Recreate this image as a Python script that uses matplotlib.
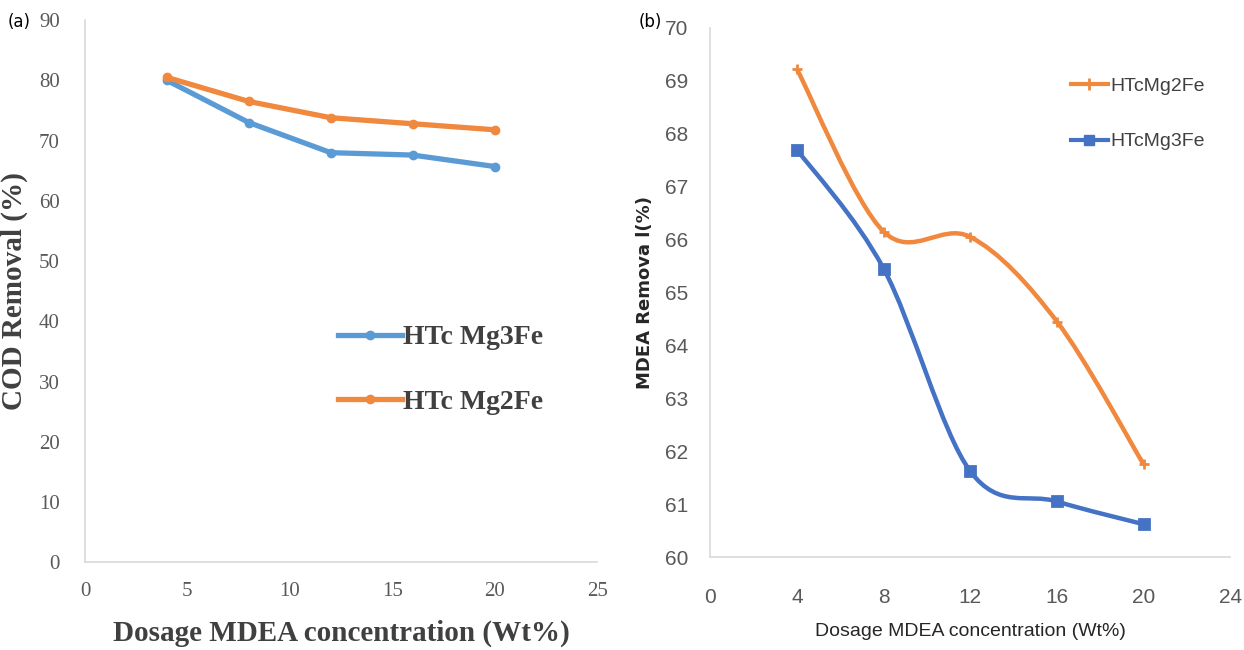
import numpy as np
import matplotlib
matplotlib.use("Agg")
import matplotlib.pyplot as plt
from matplotlib.path import Path
from matplotlib.patches import PathPatch
from matplotlib.lines import Line2D

# Panel (a): COD removal
dose_a = [4, 8, 12, 16, 20]
cod_mg3fe = [80.0, 73.0, 68.0, 67.6, 65.7]
cod_mg2fe = [80.5, 76.5, 73.8, 72.8, 71.8]

# Panel (b): MDEA removal
dose_b = [4, 8, 12, 16, 20]
mdea_mg2fe = [69.22, 66.15, 66.05, 64.45, 61.75]
mdea_mg3fe = [67.7, 65.45, 61.62, 61.05, 60.62]

BLUE_A = "#5B9BD5"
ORANGE = "#F0883E"
BLUE_B = "#4472C4"
GRID = "#D9D9D9"
TICK = "#595959"

SERIF = ["Liberation Serif", "DejaVu Serif"]
NARROW = ["Liberation Sans", "DejaVu Sans"]


def smooth_path(x, y):
    """Courbe lissée façon Excel (Bezier Catmull-Rom) passant par les points."""
    x = np.asarray(x, float)
    y = np.asarray(y, float)
    n = len(x)
    verts = [(x[0], y[0])]
    codes = [Path.MOVETO]
    for i in range(n - 1):
        p0 = np.array([x[max(i - 1, 0)], y[max(i - 1, 0)]])
        p1 = np.array([x[i], y[i]])
        p2 = np.array([x[i + 1], y[i + 1]])
        p3 = np.array([x[min(i + 2, n - 1)], y[min(i + 2, n - 1)]])
        c1 = p1 + (p2 - p0) / 6.0
        c2 = p2 - (p3 - p1) / 6.0
        verts += [tuple(c1), tuple(c2), tuple(p2)]
        codes += [Path.CURVE4] * 3
    return Path(verts, codes)


def style_axes(ax):
    for side in ("top", "right"):
        ax.spines[side].set_visible(False)
    for side in ("left", "bottom"):
        ax.spines[side].set_color(GRID)
        ax.spines[side].set_linewidth(1.2)
    ax.tick_params(length=0)


fig = plt.figure(figsize=(12.44, 6.5), dpi=100)

# ---- (a) ----
ax1 = fig.add_axes([0.0683, 0.135, 0.4117, 0.834])
style_axes(ax1)
ax1.plot(dose_a, cod_mg3fe, color=BLUE_A, lw=3.8, marker="o", ms=6,
         label="HTc Mg3Fe")
ax1.plot(dose_a, cod_mg2fe, color=ORANGE, lw=3.8, marker="o", ms=6,
         label="HTc Mg2Fe")
ax1.set_xlim(0, 25)
ax1.set_ylim(0, 90)
ax1.set_xticks(range(0, 26, 5))
ax1.set_yticks(range(0, 91, 10))
for lab in ax1.get_xticklabels() + ax1.get_yticklabels():
    lab.set_family(SERIF)
    lab.set_fontsize(15)
    lab.set_color(TICK)
ax1.tick_params(axis="x", pad=14)
ax1.tick_params(axis="y", pad=18)
ax1.set_xlabel("Dosage MDEA concentration (Wt%)", family=SERIF,
               fontsize=21, fontweight="bold", color="#404040", labelpad=14)
ax1.set_ylabel("COD Removal (%)", family=SERIF, fontsize=21,
               fontweight="bold", color="#404040", labelpad=8)
leg1 = ax1.legend(loc="center left", bbox_to_anchor=(0.445, 0.355),
                  frameon=False, handlelength=2.3, labelspacing=1.4,
                  prop={"family": SERIF, "size": 20, "weight": "bold"},
                  handletextpad=0.05)
for t in leg1.get_texts():
    t.set_color("#404040")
fig.text(0.006, 0.966, "(a)", fontsize=12, va="center")

# ---- (b) ----
ax2 = fig.add_axes([0.571, 0.143, 0.418, 0.814])
style_axes(ax2)
for xs, ys, col, mk, ms, lab in [
    (dose_b, mdea_mg2fe, ORANGE, "+", 7, "HTcMg2Fe"),
    (dose_b, mdea_mg3fe, BLUE_B, "s", 7, "HTcMg3Fe"),
]:
    ax2.add_patch(PathPatch(smooth_path(xs, ys), facecolor="none",
                            edgecolor=col, lw=3.2))
    ax2.plot(xs, ys, ls="none", marker=mk, ms=ms, color=col, mew=2)
handles = [
    Line2D([], [], color=ORANGE, lw=3, marker="+", ms=8, mew=2),
    Line2D([], [], color=BLUE_B, lw=3, marker="s", ms=7),
]
ax2.set_xlim(0, 24)
ax2.set_ylim(60, 70)
ax2.set_xticks(range(0, 25, 4))
ax2.set_yticks(range(60, 71, 1))
for lab in ax2.get_xticklabels() + ax2.get_yticklabels():
    lab.set_family(NARROW)
    lab.set_fontsize(15)
    lab.set_color(TICK)
ax2.tick_params(axis="x", pad=22)
ax2.tick_params(axis="y", pad=16)
ax2.set_xlabel("Dosage MDEA concentration (Wt%)", family=NARROW,
               fontsize=14, color="#262626", labelpad=12)
ax2.set_ylabel("MDEA Remova l(%)", fontsize=13, fontweight="bold",
               color="#262626", labelpad=8)
leg2 = ax2.legend(handles, ["HTcMg2Fe", "HTcMg3Fe"], loc="upper left",
                  bbox_to_anchor=(0.66, 0.94), frameon=False,
                  handlelength=1.9, labelspacing=1.95, handletextpad=0.1,
                  prop={"family": NARROW, "size": 14})
for t in leg2.get_texts():
    t.set_color("#404040")
fig.text(0.513, 0.966, "(b)", fontsize=12, va="center")

fig.savefig("out.png", dpi=100, facecolor="white")
